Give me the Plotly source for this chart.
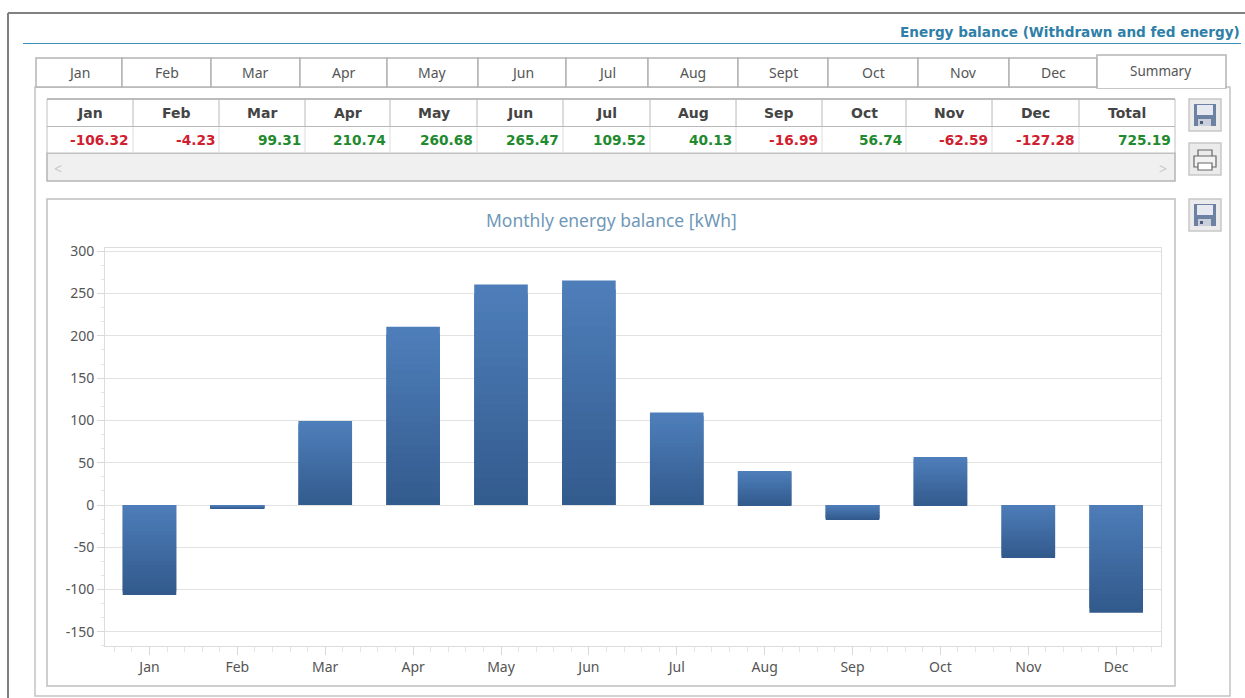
import plotly.graph_objects as go

months = ["Jan", "Feb", "Mar", "Apr", "May", "Jun", "Jul", "Aug", "Sep", "Oct", "Nov", "Dec"]
balance = [-106.32, -4.23, 99.31, 210.74, 260.68, 265.47, 109.52, 40.13, -16.99, 56.74, -62.59, -127.28]
total_label = "Total"
total_value = 725.19
tab_labels = ["Jan", "Feb", "Mar", "Apr", "May", "Jun", "Jul", "Aug", "Sept", "Oct", "Nov", "Dec"]
y_ticks = [300, 250, 200, 150, 100, 50, 0, -50, -100, -150]
page_title = "Energy balance (Withdrawn and fed energy)"
chart_title = "Monthly energy balance [kWh]"

L, R, T, B = 105, 1161, 248, 646
W, H = 1245, 698
UI = "Noto Sans"
BOLD = "DejaVu Sans"


def px(x):
    return (x - L) / (R - L)


def py(y):
    return (B - y) / (B - T)


shapes, notes = [], []


def rect(x0, y0, x1, y1, line=None, fill=None, lw=1, layer="below"):
    shapes.append(dict(type="rect", xref="paper", yref="paper", x0=px(x0), x1=px(x1), y0=py(y1), y1=py(y0),
                       line=dict(color=line or "rgba(0,0,0,0)", width=lw if line else 0),
                       fillcolor=fill or "rgba(0,0,0,0)", layer=layer))


def seg(x0, y0, x1, y1, color, lw=1):
    shapes.append(dict(type="line", xref="paper", yref="paper", x0=px(x0), x1=px(x1), y0=py(y0), y1=py(y1),
                       line=dict(color=color, width=lw), layer="below"))


def text(x, y, s, size, color, anchor="center", family=UI, bold=False):
    notes.append(dict(x=px(x), y=py(y), xref="paper", yref="paper", text=f"<b>{s}</b>" if bold else s,
                      showarrow=False, xanchor=anchor, yanchor="middle",
                      font=dict(family=family, size=size, color=color)))


# Outer frame and heading
seg(8, 13, W, 13, "#808080", 2)
seg(8, 13, 8, H, "#808080", 2)
seg(23, 43.5, 1241, 43.5, "#3f8fb8", 1)
text(1242, 32, page_title, 13.6, "#2f7fa8", "right", BOLD, True)

# Tabs
tab_edges = [36, 122, 211, 300, 387, 478, 566, 648, 738, 828, 918, 1009, 1097]
rect(35, 87, 1230, 696, "#c4c4c4", "#ffffff", 1.5)
for i, lab in enumerate(tab_labels):
    rect(tab_edges[i], 58, tab_edges[i + 1], 87, "#b4b4b4", "#ffffff", 1.5)
    text((tab_edges[i] + tab_edges[i + 1]) / 2, 72.5, lab, 14, "#555555")
rect(1097, 55, 1226, 88, "#b4b4b4", "#ffffff", 1.5)
seg(1098, 87, 1225, 87, "#ffffff", 2)
text(1160, 71, "Summary", 13.5, "#555555")

# Table
cell_edges = [47, 133, 219, 305, 390, 477, 563, 650, 736, 822, 906, 992, 1079, 1175]
rect(47, 153, 1175, 181, "#b4b4b4", "#f0f0f0", 1.5)
rect(47, 99, 1175, 153, "#c0c0c0", "#ffffff", 1)
seg(47, 126.5, 1175, 126.5, "#b8b8b8", 1)
seg(47, 99, 1175, 99, "#b0b0b0", 1.5)
for e in cell_edges[1:-1]:
    seg(e, 99, e, 126, "#b8b8b8", 1)
    seg(e, 127, e, 153, "#dddddd", 1)
labels = months + [total_label]
values = balance + [total_value]
for i, (lab, v) in enumerate(zip(labels, values)):
    text((cell_edges[i] + cell_edges[i + 1]) / 2, 113, lab, 14, "#444444", "center", BOLD, True)
    text(cell_edges[i + 1] - 2, 140.5, f"{v:.2f}", 13.7, "#d0202f" if v < 0 else "#1f8a2e", "right", BOLD, True)
text(58, 168, "&lt;", 14, "#c8c8c8")
text(1163, 168, "&gt;", 14, "#c8c8c8")

# Chart panel
rect(47, 199, 1175, 686, "#c0c0c0", "#ffffff", 1.5)
text(611.5, 220, chart_title, 17.5, "#6f98b8")


# Buttons
def save_icon(y0):
    rect(1189, y0, 1221, y0 + 32, "#c8c8c8", "#ebebeb", 1.5)
    rect(1194, y0 + 5, 1216, y0 + 27, None, "#6d81a2")
    rect(1197, y0 + 6, 1213, y0 + 16, None, "#e6e9ef")
    rect(1198, y0 + 20, 1211, y0 + 27, None, "#c9d0dc")
    rect(1200, y0 + 22, 1203, y0 + 25, None, "#4a5a78")


save_icon(99)
rect(1189, 143, 1221, 175, "#c8c8c8", "#ebebeb", 1.5)
rect(1198, 150, 1212, 158, "#666666", "#ebebeb", 1.2)
rect(1194, 156, 1216, 167, "#666666", "#f2f2f2", 1.2)
rect(1198, 163, 1212, 170, "#666666", "#ffffff", 1.2)
save_icon(199)

fig = go.Figure()
steps = 24
top_rgb, bottom_rgb = (78, 126, 186), (50, 90, 140)


def mix(t):
    return "rgb(%d,%d,%d)" % tuple(round(a + (b - a) * t) for a, b in zip(top_rgb, bottom_rgb))


# Each bar is painted as overlapping bands so every height has the same number of layers.
for k in range(steps):
    f_out = 1 - k / steps
    f_in = max(0, 1 - (k + 2) / steps)
    colors = [mix(1 - f_out) if v >= 0 else mix(f_out) for v in balance]
    fig.add_trace(go.Bar(x=list(range(12)), y=[v * (f_out - f_in) for v in balance],
                         base=[v * f_in for v in balance], width=0.61,
                         marker=dict(color=colors, line=dict(width=0)), hoverinfo="skip", showlegend=False))

fig.update_layout(
    width=W, height=H, margin=dict(l=L, r=W - R, t=T, b=H - B, pad=0), barmode="overlay",
    paper_bgcolor="white", plot_bgcolor="rgba(0,0,0,0)", showlegend=False,
    shapes=shapes, annotations=notes, font=dict(family=UI, size=12, color="#555555"),
    xaxis=dict(range=[-0.506, 11.51], tickmode="array", tickvals=list(range(12)), ticktext=months,
               showgrid=False, zeroline=False, showline=True, linecolor="#dcdcdc", mirror=True,
               ticks="outside", ticklen=8, tickcolor="#d8d8d8",
               tickfont=dict(family=UI, size=14, color="#555555"),
               minor=dict(ticks="outside", ticklen=5, tickcolor="#e4e4e4", tick0=0, dtick=0.2, showgrid=False)),
    yaxis=dict(range=[-166.7, 303.9], tickmode="array", tickvals=y_ticks, ticktext=[str(t) for t in y_ticks],
               showgrid=True, gridcolor="#e2e2e2", gridwidth=1, zeroline=False,
               showline=True, linecolor="#dcdcdc", mirror=True,
               ticks="outside", ticklen=7, tickcolor="#d8d8d8",
               tickfont=dict(family=UI, size=14, color="#555555"),
               minor=dict(ticks="outside", ticklen=3, tickcolor="#e4e4e4", tick0=0, dtick=50 / 3, showgrid=False)),
)

fig.write_html("out.html", config=dict(displayModeBar=False),
               post_script="document.body.style.margin='0';document.body.style.overflow='hidden';")
